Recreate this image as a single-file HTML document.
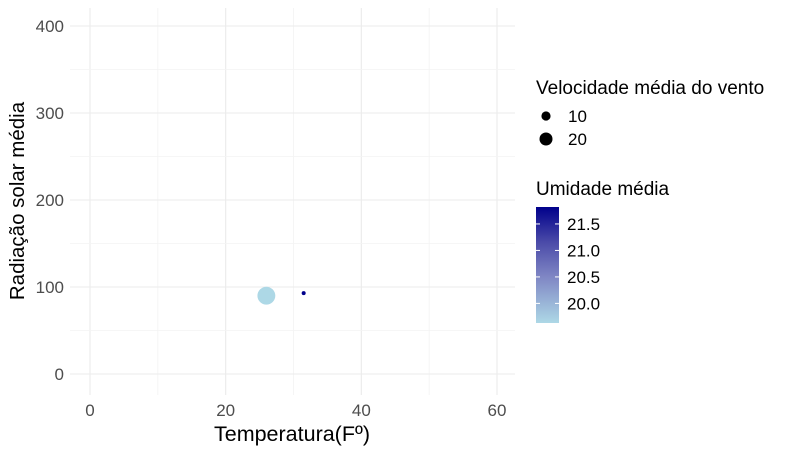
<!DOCTYPE html>
<html><head><meta charset="utf-8"><style>
body{margin:0;background:#fff;}
svg text{font-family:"Liberation Sans",Arial,sans-serif;}
</style></head><body>
<svg width="798" height="449" viewBox="0 0 798 449" xmlns="http://www.w3.org/2000/svg">
<defs>
<linearGradient id="hum" x1="0" y1="1" x2="0" y2="0">
<stop offset="0" stop-color="#add8e6"/><stop offset="0.4" stop-color="#7f86c4"/><stop offset="0.7" stop-color="#4a4aa8"/><stop offset="1" stop-color="#00008b"/>
</linearGradient>
</defs>
<g id="grid"></g>
<g id="points"></g>
<g id="axes"></g>
<text x="292" y="441" font-size="21.5" text-anchor="middle" fill="#000">Temperatura(Fº)</text>
<text transform="translate(24,201) rotate(-90)" font-size="20.5" text-anchor="middle" fill="#000">Radiação solar média</text>
<g>
<text x="536" y="94" font-size="19" fill="#000">Velocidade média do vento</text>
<circle cx="546" cy="116" r="4.6" fill="#000"/>
<text x="568" y="122" font-size="17" fill="#000">10</text>
<circle cx="546" cy="139" r="6.5" fill="#000"/>
<text x="568" y="145" font-size="17" fill="#000">20</text>
</g>
<g id="colorlegend">
<text x="536" y="195" font-size="19" fill="#000">Umidade média</text>
<rect x="536" y="207" width="23" height="116" fill="url(#hum)"/>
</g>
</svg>
<script>
const temps=[26,31.5];
const radiation=[90,93];
const wind=[38,1.9];
const humidity=[19.63,21.82];
const xTicks=[0,20,40,60];
const yTicks=[0,100,200,300,400];
const cTicks=[20.0,20.5,21.0,21.5];

const ns="http://www.w3.org/2000/svg";
const X=v=>90+v*(497-90)/60;
const Y=v=>374-v*0.87;
const R=w=>Math.sqrt(w)*1.45;
const cMin=19.63,cMax=21.82;
const C=v=>323-(v-cMin)/(cMax-cMin)*116;
function mk(tag,attrs,parent){const e=document.createElementNS(ns,tag);for(const k in attrs)e.setAttribute(k,attrs[k]);parent.appendChild(e);return e;}
function lerp(a,b,t){return Math.round(a+(b-a)*t);}
function col(v){const t=Math.max(0,Math.min(1,(v-cMin)/(cMax-cMin)));return `rgb(${lerp(173,0,t)},${lerp(216,0,t)},${lerp(230,139,t)})`;}
const grid=document.getElementById('grid'),pts=document.getElementById('points'),axes=document.getElementById('axes'),cl=document.getElementById('colorlegend');
const L=70,Rt=515,T=8,B=395;
for(let i=0;i<xTicks.length;i++){
 const v=xTicks[i];
 let l=mk('line',{x1:X(v),x2:X(v),y1:T,y2:B,stroke:'#ebebeb','stroke-width':1.1},grid);
 
 
 if(i<xTicks.length-1){const m=(v+xTicks[i+1])/2;
 let n=mk('line',{x1:X(m),x2:X(m),y1:T,y2:B,stroke:'#f3f3f3','stroke-width':0.8},grid);
 
 }
 let t=mk('text',{x:X(v),y:416,'font-size':17,'text-anchor':'middle',fill:'#4d4d4d'},axes);t.textContent=v;
 
 
}
for(let i=0;i<yTicks.length;i++){
 const v=yTicks[i];
 let l=mk('line',{x1:L,x2:Rt,y1:Y(v),y2:Y(v),stroke:'#ebebeb','stroke-width':1.1},grid);
 
 
 const m=v+50;
 let n=mk('line',{x1:L,x2:Rt,y1:Y(m),y2:Y(m),stroke:'#f3f3f3','stroke-width':0.8},grid);
 
 
 let t=mk('text',{x:64,y:Y(v)+6,'font-size':17,'text-anchor':'end',fill:'#4d4d4d'},axes);t.textContent=v;
 
 
}
for(let i=0;i<temps.length;i++){
 let c=mk('circle',{cx:X(temps[i]),cy:Y(radiation[i]),r:R(wind[i]),fill:col(humidity[i])},pts);
 
 
}
for(const v of cTicks){
 const y=C(v);
 let a=mk('line',{x1:536,x2:540,y1:y,y2:y,stroke:'#fff','stroke-width':1},cl);
 
 
 let b=mk('line',{x1:555,x2:559,y1:y,y2:y,stroke:'#fff','stroke-width':1},cl);
 
 
 let t=mk('text',{x:567,y:y+6,'font-size':17,fill:'#000'},cl);t.textContent=v.toFixed(1);
 
 
}
</script>
</body></html>
